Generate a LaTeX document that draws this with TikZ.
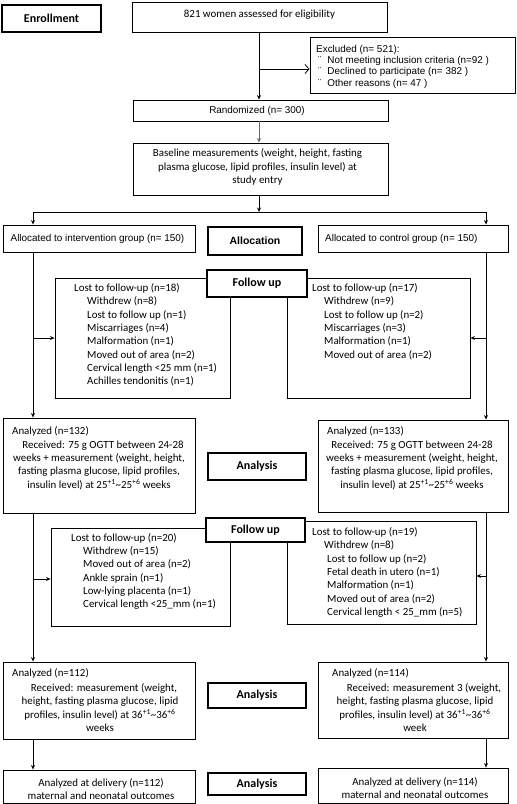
\documentclass[tikz,border=0pt]{standalone}
\usepackage{fontspec}
\setmainfont{Carlito}
\newfontfamily\arialfont{Liberation Sans}
\usetikzlibrary{arrows.meta,fit}
\newcommand\mkbox[6]{\node[#6, fit={(#2,#3) (#4,#5)}] (#1) {};}
\begin{document}
\begin{tikzpicture}[x=1pt,y=-1pt,
  thinbox/.style={draw=black, line width=0.9pt, fill=white, inner sep=0pt},
  thickbox/.style={draw=black, line width=2.4pt, fill=white, inner sep=0pt},
  lbl/.style={font=\fontsize{12}{14}\selectfont\bfseries, inner sep=0pt},
  cal/.style={font=\fontsize{10.9}{13.35}\selectfont, inner sep=0pt},
  ar/.style={font=\arialfont\fontsize{9.9}{11.5}\selectfont, inner sep=0pt},
  arsmall/.style={font=\arialfont\fontsize{9.9}{11.3}\selectfont, inner sep=0pt},
  conn/.style={line width=0.8pt, draw=black},
  arr/.style={conn, -{Stealth[length=4.5pt,width=4pt]}},
  oarr/.style={conn, -{Straight Barb[length=4pt,width=9pt]}},
]
\useasboundingbox (0,0) rectangle (517,804);

% boxes
\mkbox{enr}{2}{5}{101}{32}{thickbox}
\mkbox{elig}{132}{2}{387}{32}{thinbox}
\mkbox{excl}{310}{37}{515}{93}{thinbox}
\mkbox{rand}{133}{100}{388}{121}{thinbox}
\mkbox{base}{133}{143}{388}{195}{thinbox}
\mkbox{int}{3}{225}{195}{252}{thinbox}
\mkbox{alloc}{208}{227}{302}{255}{thickbox}
\mkbox{ctl}{318}{225}{508}{252}{thinbox}
\mkbox{lostLa}{55}{278}{230}{398}{thinbox}
\mkbox{lostRa}{287}{278}{470}{398}{thinbox}
\mkbox{fua}{207}{270}{307}{297}{thickbox}
\mkbox{anLa}{3}{418}{195}{513}{thinbox}
\mkbox{anaa}{208}{453}{306}{480}{thickbox}
\mkbox{anRa}{318}{420}{508}{512}{thinbox}
\mkbox{lostLb}{51}{528}{230}{626}{thinbox}
\mkbox{lostRb}{287}{521}{476}{624}{thinbox}
\mkbox{fub}{206}{518}{305}{542}{thickbox}
\mkbox{anLb}{3}{662}{195}{739}{thinbox}
\mkbox{anab}{208}{683}{306}{708}{thickbox}
\mkbox{anRb}{318}{662}{508}{738}{thinbox}
\mkbox{delL}{3}{770}{195}{803}{thinbox}
\mkbox{anac}{208}{773}{306}{795}{thickbox}
\mkbox{delR}{318}{768}{508}{803}{thinbox}

% connectors
\coordinate (LX) at (33,0);
\coordinate (RX) at (486,0);
\coordinate (CX) at (259,0);
\coordinate (brE) at (259,69);
\coordinate (split) at (259,212);
\coordinate (ba) at (33,338);
\coordinate (bb) at (33,579);
\coordinate (bc) at (486,576);
\draw[arr] (elig.south -| CX) -- (rand.north -| CX);
\draw[oarr] (brE) -- (brE -| excl.west);
\draw[arr, draw=black!60] (rand.south -| CX) -- (base.north -| CX);
\draw[arr] (base.south -| CX) -- (split);
\draw[conn] (split -| LX) -- (split -| RX);
\draw[arr] (split -| LX) -- (int.north -| LX);
\draw[arr] (split -| RX) -- (ctl.north -| RX);
\draw[arr] (int.south -| LX) -- (anLa.north -| LX);
\draw[arr] (ba) -- (ba -| lostLa.west);
\draw[arr] (ctl.south -| RX) -- (anRa.north -| RX);
\draw[arr] (ba -| RX) -- (ba -| lostRa.east);
\draw[arr] (anLa.south -| LX) -- (anLb.north -| LX);
\draw[arr] (bb) -- (bb -| lostLb.west);
\draw[arr] (anRa.south -| RX) -- (anRb.north -| RX);
\draw[arr] (bc) -- (bc -| lostRb.east);
\draw[arr] (anLb.south -| LX) -- (delL.north -| LX);
\draw[arr] (anRb.south -| RX) -- (delR.north -| RX);

% texts
\node[lbl] (tEnr) at (enr.center) {Enrollment};
\node[cal] (tElig) at (259.5,15) {821 women assessed for eligibility};
\node[arsmall, align=left, anchor=west] (tExcl) at (316,66.5) {Excluded (n= 521):\\
\hspace*{2pt}¨\hspace*{6pt}Not meeting inclusion criteria (n=92 )\\
\hspace*{2pt}¨\hspace*{6pt}Declined to participate (n= 382 )\\
\hspace*{2pt}¨\hspace*{6pt}Other reasons (n= 47 )};
\node[ar] (tRand) at (257,110.5) {Randomized (n= 300)};
\node[cal, align=center] (tBase) at (257.5,167) {Baseline measurements (weight, height, fasting\\plasma glucose, lipid profiles, insulin level) at\\study entry};
\node[ar] (tInt) at (97.5,238.5) {Allocated to intervention group (n= 150)};
\node[font=\arialfont\bfseries\fontsize{10.5}{12}\selectfont, inner sep=0pt] (tAlloc) at (alloc.center) {Allocation};
\node[ar, anchor=west] (tCtl) at (325,238.5) {Allocated to control group (n= 150)};

\node[lbl] (tFua) at (fua.center) {Follow up};
\node[cal, align=left, anchor=west] (tLostLa) at (74,335) {Lost to follow-up (n=18)\\
\hspace*{13pt}Withdrew (n=8)\\
\hspace*{13pt}Lost to follow up (n=1)\\
\hspace*{13pt}Miscarriages (n=4)\\
\hspace*{13pt}Malformation (n=1)\\
\hspace*{13pt}Moved out of area (n=2)\\
\hspace*{13pt}Cervical length <25 mm (n=1)\\
\hspace*{13pt}Achilles tendonitis (n=1)};
\node[cal, align=left, anchor=west] (tLostRa) at (312,321.5) {Lost to follow-up (n=17)\\
\hspace*{12pt}Withdrew (n=9)\\
\hspace*{12pt}Lost to follow up (n=2)\\
\hspace*{12pt}Miscarriages (n=3)\\
\hspace*{12pt}Malformation (n=1)\\
\hspace*{12pt}Moved out of area (n=2)};

\node[cal, anchor=west] (hLa) at (12,431.5) {Analyzed (n=132)};
\node[cal, align=center] (tLa) at (99,465) {\hspace*{8pt}Received: 75 g OGTT between 24-28\\weeks + measurement (weight, height,\\fasting plasma glucose, lipid profiles,\\insulin level) at 25\textsuperscript{+1}\textasciitilde 25\textsuperscript{+6} weeks};
\node[lbl] (tAnaa) at (anaa.center) {Analysis};
\node[cal, anchor=west] (hRa) at (327,431.5) {Analyzed (n=133)};
\node[cal, align=center] (tRa) at (412,465) {Received: 75 g OGTT between 24-28\\weeks + measurement (weight, height,\\fasting plasma glucose, lipid profiles,\\insulin level) at 25\textsuperscript{+1}\textasciitilde 25\textsuperscript{+6} weeks};

\node[lbl] (tFub) at (fub.center) {Follow up};
\node[cal, align=left, anchor=west] (tLostLb) at (71,571.5) {Lost to follow-up (n=20)\\
\hspace*{12pt}Withdrew (n=15)\\
\hspace*{12pt}Moved out of area (n=2)\\
\hspace*{12pt}Ankle sprain (n=1)\\
\hspace*{12pt}Low-lying placenta (n=1)\\
\hspace*{12pt}Cervical length <25\_mm (n=1)};
\node[cal, align=left, anchor=west] (tLostRb) at (312,572.5) {Lost to follow-up (n=19)\\
\hspace*{12pt}Withdrew (n=8)\\
\hspace*{15pt}Lost to follow up (n=2)\\
\hspace*{15pt}Fetal death in utero (n=1)\\
\hspace*{15pt}Malformation (n=1)\\
\hspace*{15pt}Moved out of area (n=2)\\
\hspace*{15pt}Cervical length < 25\_mm (n=5)};

\node[cal, anchor=west] (hLb) at (12,673.5) {Analyzed (n=112)};
\node[cal, align=center] (tLb) at (100,707.5) {\hspace*{8pt}Received: measurement (weight,\\height, fasting plasma glucose, lipid\\profiles, insulin level) at 36\textsuperscript{+1}\textasciitilde 36\textsuperscript{+6}\\weeks};
\node[lbl] (tAnab) at (anab.center) {Analysis};
\node[cal, anchor=west] (hRb) at (332,673.5) {Analyzed (n=114)};
\node[cal, align=center] (tRb) at (415,707.5) {\hspace*{18pt}Received: measurement 3 (weight,\\height, fasting plasma glucose, lipid\\profiles, insulin level) at 36\textsuperscript{+1}\textasciitilde 36\textsuperscript{+6}\\week};

\node[cal, align=center] (tDelL) at (101,789) {Analyzed at delivery (n=112)\\maternal and neonatal outcomes};
\node[lbl] (tAnac) at (anac.center) {Analysis};
\node[cal, align=center] (tDelR) at (415,788) {Analyzed at delivery (n=114)\\maternal and neonatal outcomes};
\end{tikzpicture}
\end{document}
